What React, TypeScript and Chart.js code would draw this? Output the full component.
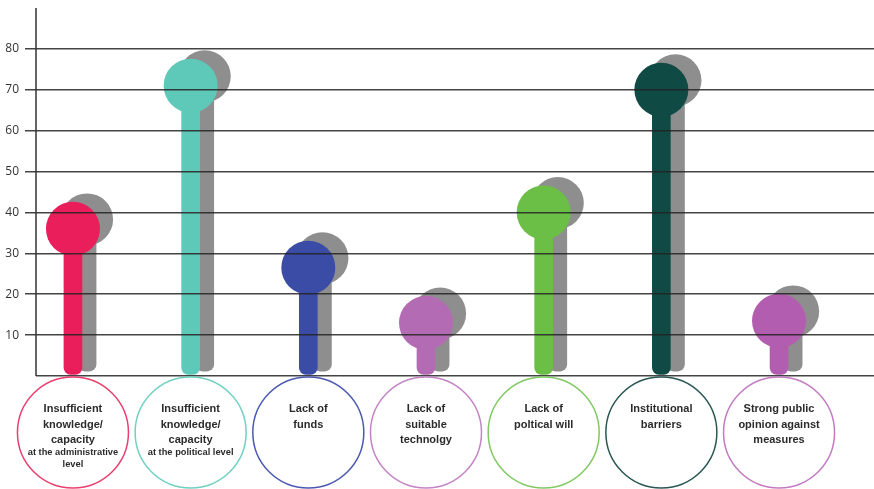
import React, { useEffect, useRef } from "react";
import { Chart, registerables } from "chart.js";

Chart.register(...registerables);

// ---- data ----
const categories = [
  "Insufficient knowledge/capacity at the administrative level",
  "Insufficient knowledge/capacity at the political level",
  "Lack of funds",
  "Lack of suitable technolgy",
  "Lack of poltical will",
  "Institutional barriers",
  "Strong public opinion against measures",
];
const labelLines: string[][] = [
  ["Insufficient", "knowledge/", "capacity"],
  ["Insufficient", "knowledge/", "capacity"],
  ["Lack of", "funds"],
  ["Lack of", "suitable", "technolgy"],
  ["Lack of", "poltical will"],
  ["Institutional", "barriers"],
  ["Strong public", "opinion against", "measures"],
];
const subLines: string[][] = [
  ["at the administrative", "level"],
  ["at the political level"],
  [],
  [],
  [],
  [],
  [],
];
const values = [36, 71, 26.5, 13, 40, 70, 13.5];
const yTickValues = [0, 10, 20, 30, 40, 50, 60, 70, 80, 90];

// ---- style ----
const colors = ["#e91e5b", "#5fc9b9", "#3b4ca7", "#b36bb3", "#6bbf47", "#0f4a45", "#b35db0"];
const ringColors = ["#ea3f6e", "#72d0c2", "#4b59b0", "#c383c6", "#80c963", "#2a5753", "#c27bc2"];
const SHADOW = "#8e8e8e";
const SHADOW_DX = 0.12;
const SHADOW_DY = 2.3;
const SHADOW_BASE = 1.2;
const STEM_BASE = 0.4;
const LINE = "rgba(35,35,35,0.85)";

const labelCircles = {
  id: "labelCircles",
  afterDraw(chart: any) {
    const ctx = chart.ctx;
    const xs = chart.scales.x;
    const ys = chart.scales.y;
    const area = chart.chartArea;
    ctx.save();
    // vertical axis line
    ctx.beginPath();
    ctx.moveTo(area.left, area.top);
    ctx.lineTo(area.left, ys.getPixelForValue(0));
    ctx.strokeStyle = "#333";
    ctx.lineWidth = 1.5;
    ctx.stroke();

    const r = 55.5;
    const cy = ys.getPixelForValue(0) + r + 1;
    categories.forEach((_, i) => {
      const cx = xs.getPixelForValue(i);
      ctx.beginPath();
      ctx.arc(cx, cy, r, 0, Math.PI * 2);
      ctx.strokeStyle = ringColors[i];
      ctx.lineWidth = 1.5;
      ctx.stroke();
      ctx.fillStyle = "#2b2b2b";
      ctx.textAlign = "center";
      ctx.textBaseline = "middle";
      ctx.font = "bold 11px 'Liberation Sans', Arial, sans-serif";
      const top = cy - 23.5;
      labelLines[i].forEach((t, k) => ctx.fillText(t, cx, top + k * 15.5));
      ctx.font = "bold 9.3px 'Liberation Sans', Arial, sans-serif";
      subLines[i].forEach((t, k) => ctx.fillText(t, cx, cy + 20 + k * 12));
    });
    ctx.restore();
  },
};

export default function App() {
  const ref = useRef<HTMLCanvasElement>(null);
  useEffect(() => {
    if (!ref.current) return;
    const idx = values.map((_, i) => i);
    const chart = new Chart(ref.current, {
      type: "bar",
      data: {
        datasets: [
          {
            type: "bar",
            data: idx.map((i) => ({ x: i + SHADOW_DX, y: [SHADOW_BASE, values[i] + SHADOW_DY] })) as any,
            backgroundColor: SHADOW,
            barThickness: 18,
            grouped: false,
            borderRadius: 7,
            borderSkipped: false,
            order: 4,
          } as any,
          {
            type: "line",
            data: idx.map((i) => ({ x: i + SHADOW_DX, y: values[i] + SHADOW_DY })),
            showLine: false,
            pointRadius: 26,
            pointBackgroundColor: SHADOW,
            pointBorderWidth: 0,
            order: 3,
          } as any,
          {
            type: "bar",
            data: idx.map((i) => ({ x: i, y: [STEM_BASE, values[i]] })) as any,
            backgroundColor: colors,
            barThickness: 18,
            grouped: false,
            borderRadius: 7,
            borderSkipped: false,
            order: 2,
          } as any,
          {
            type: "line",
            data: idx.map((i) => ({ x: i, y: values[i] })),
            showLine: false,
            pointRadius: 27,
            pointBackgroundColor: colors,
            pointBorderWidth: 0,
            order: 1,
          } as any,
        ],
      },
      options: {
        responsive: false,
        animation: false,
        events: [],
        layout: { autoPadding: false, padding: { top: 8, bottom: 113, left: 0, right: 0 } },
        plugins: { legend: { display: false }, tooltip: { enabled: false } },
        scales: {
          x: {
            type: "linear",
            display: false,
            offset: false,
            min: -0.314,
            max: 6.807,
          },
          y: {
            type: "linear",
            min: 0,
            max: 90,
            afterFit: (s: any) => {
              s.width = 36;
              s.paddingTop = 0;
              s.paddingBottom = 0;
            },
            afterBuildTicks: (s: any) => {
              s.ticks = yTickValues.map((v) => ({ value: v }));
            },
            ticks: {
              padding: 6,
              color: "#333",
              font: { family: "'Open Sans', sans-serif", size: 12 },
              callback: (v: any) => (v === 90 ? null : v === 0 ? "" : String(v)),
            },
            grid: {
              z: 1,
              color: LINE,
              lineWidth: 1.5,
              tickLength: 11,
              tickColor: (c: any) => (c.tick && c.tick.value === 0 ? "rgba(0,0,0,0)" : LINE),
            },
            border: { display: false },
          },
        },
      } as any,
      plugins: [labelCircles],
    });
    return () => chart.destroy();
  }, []);
  return (
    <div style={{ position: "fixed", left: 0, top: 0, width: 874, height: 489, background: "#fff" }}>
      <canvas ref={ref} width={874} height={489} />
    </div>
  );
}
